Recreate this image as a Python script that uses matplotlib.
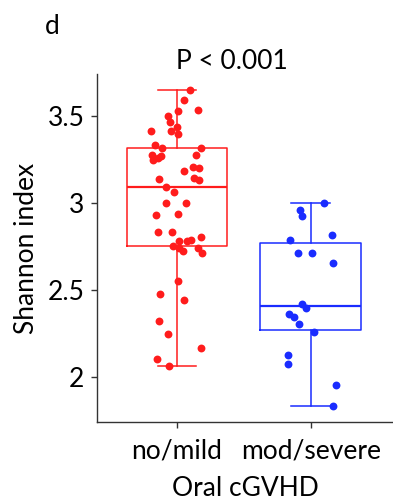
import matplotlib
matplotlib.use("Agg")
import matplotlib.pyplot as plt

plt.rcParams["font.family"] = ["Lato", "DejaVu Sans"]

# Shannon index per patient
groups = ["no/mild", "mod/severe"]
colors = ["#ff1c1c", "#1a2cff"]

no_mild = [3.649, 3.592, 3.502, 3.531, 3.533, 3.467, 3.435, 3.414, 3.416, 3.395,
           3.333, 3.314, 3.314, 3.276, 3.270, 3.257, 3.247, 3.278, 3.209, 3.199,
           3.184, 3.136, 3.142, 3.130, 3.090, 3.065, 2.998, 3.000, 2.933, 2.935,
           2.835, 2.833, 2.803, 2.784, 2.782, 2.785, 2.751, 2.740, 2.726, 2.740,
           2.714, 2.550, 2.475, 2.444, 2.320, 2.249, 2.167, 2.102, 2.061]
no_mild_jitter = [0.097, 0.055, -0.065, 0.010, 0.159, -0.050, -0.002, -0.194, -0.045, 0.007,
                  -0.162, -0.114, 0.180, -0.189, -0.117, -0.142, -0.177, 0.142, 0.122, 0.167,
                  0.055, -0.135, 0.130, 0.165, -0.080, -0.025, -0.080, 0.067, -0.157, 0.005,
                  -0.140, -0.040, 0.177, 0.012, 0.077, 0.105, -0.032, 0.012, 0.042, 0.155,
                  0.187, 0.005, -0.127, 0.050, -0.132, -0.065, 0.177, -0.150, -0.062]

mod_severe = [2.998, 2.960, 2.925, 2.787, 2.814, 2.713, 2.713, 2.655, 2.421,
              2.393, 2.360, 2.345, 2.306, 2.257, 2.126, 2.076, 1.952, 1.833]
mod_severe_jitter = [0.100, -0.078, -0.067, -0.153, 0.162, -0.095, 0.010, 0.165, -0.067,
                     -0.033, -0.160, -0.125, -0.088, 0.022, -0.172, -0.172, 0.191, 0.169]

data = [no_mild, mod_severe]
jitters = [no_mild_jitter, mod_severe_jitter]

fig = plt.figure(figsize=(3.93, 5.01), dpi=100)
ax = fig.add_axes([0.247, 0.158, 0.753, 0.694])

for i, (vals, jit, c) in enumerate(zip(data, jitters, colors)):
    pos = i + 1
    ax.boxplot([vals], positions=[pos], widths=0.755, whis=(0, 100),
               showfliers=False, capwidths=0.29,
               boxprops=dict(color=c, linewidth=1.1),
               whiskerprops=dict(color=c, linewidth=1.1),
               capprops=dict(color=c, linewidth=1.1),
               medianprops=dict(color=c, linewidth=1.6))
    ax.scatter([pos + j for j in jit], vals, s=32, color=c, zorder=3, linewidths=0)

ax.set_xlim(0.402, 2.616)
ax.set_ylim(1.741, 3.741)
ax.set_yticks([2, 2.5, 3, 3.5])
ax.set_yticklabels(["2", "2.5", "3", "3.5"])
ax.set_xticks([1, 2])
ax.set_xticklabels(groups)
ax.tick_params(labelsize=19, length=4, color="#333333", width=1)
ax.tick_params(axis="x", pad=8)
ax.tick_params(axis="y", pad=5)

for side in ["top", "right"]:
    ax.spines[side].set_visible(False)
for side in ["left", "bottom"]:
    ax.spines[side].set_color("#333333")
    ax.spines[side].set_linewidth(1.0)

ax.set_ylabel("Shannon index", fontsize=19, labelpad=6)
ax.set_xlabel("Oral cGVHD", fontsize=19, labelpad=9)
ax.set_title("P < 0.001", fontsize=19, pad=0, x=0.455)
fig.text(0.115, 0.948, "d", fontsize=19, ha="left", va="center")

fig.savefig("out.png", dpi=100)
